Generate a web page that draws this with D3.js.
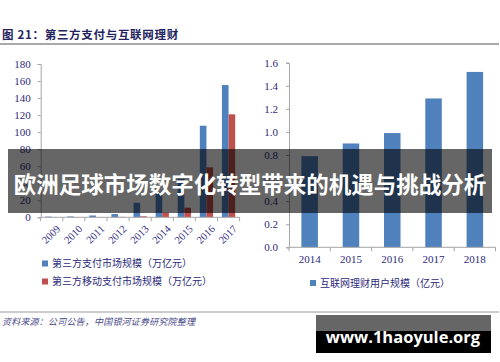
<!DOCTYPE html>
<html>
<head>
<meta charset="utf-8">
<script src="https://cdn.jsdelivr.net/npm/d3@7"></script>
<style>
  body { margin: 0; background: #fff; }
  svg { display: block; }
</style>
</head>
<body>
<div id="chart"></div>
<script>
'use strict';

// left chart: payment market size
var payYears = ['2009', '2010', '2011', '2012', '2013', '2014', '2015', '2016', '2017'];
var payTotal = [0.8, 1.0, 2.1, 3.8, 17.1, 30, 45, 107.5, 155.3];
var payMobile = [0.1, 0.2, 0.3, 0.5, 1.2, 5.4, 11.3, 58.7, 120.9];
var payTicks = [0, 20, 40, 60, 80, 100, 120, 140, 160, 180];

// right chart: online wealth management users
var wmYears = ['2014', '2015', '2016', '2017', '2018'];
var wmUsers = [0.79, 0.90, 0.99, 1.29, 1.52];
var wmTicks = [0, 0.2, 0.4, 0.6, 0.8, 1.0, 1.2, 1.4, 1.6];

var width = 500, height = 362;
var blue = '#4f81bd', red = '#c0504d';
var navy = '#2d2a7c', axisGray = '#a6a6a6';
var serif = '"Liberation Serif", "DejaVu Serif", serif';
var cjk = '"Noto Sans CJK SC", sans-serif';

var svg = d3.select('#chart').append('svg')
  .attr('width', width)
  .attr('height', height);

// header
svg.append('text')
  .attr('x', 2).attr('y', 39)
  .attr('font-family', cjk).attr('font-size', 11.5).attr('font-weight', 'bold')
  .attr('letter-spacing', 0.7)
  .attr('fill', '#23235e')
  .text('图 21：第三方支付与互联网理财');
svg.append('line')
  .attr('x1', 0).attr('x2', 499).attr('y1', 44).attr('y2', 44)
  .attr('stroke', '#8c8c8c').attr('stroke-width', 1.5);

// ---- left chart ----
var yL = d3.scaleLinear().domain([0, 180]).range([217.3, 64]);
var xL = d3.scaleBand().domain(payYears).range([40.7, 239.6]);
var bwL = xL.bandwidth();
var subL = d3.scaleBand().domain(['total', 'mobile']).range([bwL * 0.2, bwL * 0.8]);

var left = svg.append('g');

left.append('g')
  .attr('transform', 'translate(40.7,0)')
  .call(d3.axisLeft(yL).tickValues(payTicks).tickSize(3).tickPadding(7))
  .call(function(g) {
    g.select('.domain').attr('stroke', axisGray);
    g.selectAll('.tick line').attr('stroke', axisGray);
    g.selectAll('.tick text').attr('font-family', serif).attr('font-size', 11).attr('fill', navy);
  });

var payRows = payYears.map(function(y, i) {
  return { year: y, total: payTotal[i], mobile: payMobile[i] };
});

left.selectAll('rect.total')
  .data(payRows)
  .enter().append('rect')
  .attr('class', 'total')
  .attr('x', function(d) { return xL(d.year) + subL('total'); })
  .attr('y', function(d) { return yL(d.total); })
  .attr('width', subL.bandwidth())
  .attr('height', function(d) { return yL(0) - yL(d.total); })
  .attr('fill', blue);

left.selectAll('rect.mobile')
  .data(payRows)
  .enter().append('rect')
  .attr('class', 'mobile')
  .attr('x', function(d) { return xL(d.year) + subL('mobile'); })
  .attr('y', function(d) { return yL(d.mobile); })
  .attr('width', subL.bandwidth())
  .attr('height', function(d) { return yL(0) - yL(d.mobile); })
  .attr('fill', red);

// x axis with ticks at category boundaries
left.append('line')
  .attr('x1', xL.range()[0]).attr('x2', xL.range()[1])
  .attr('y1', yL(0)).attr('y2', yL(0))
  .attr('stroke', axisGray);
left.selectAll('line.bound')
  .data(payYears.concat(['end']))
  .enter().append('line')
  .attr('class', 'bound')
  .attr('x1', function(d, i) { return xL.range()[0] + i * bwL; })
  .attr('x2', function(d, i) { return xL.range()[0] + i * bwL; })
  .attr('y1', yL(0)).attr('y2', yL(0) + 4)
  .attr('stroke', axisGray);
left.selectAll('text.xlab')
  .data(payYears)
  .enter().append('text')
  .attr('class', 'xlab')
  .attr('transform', function(d) {
    return 'translate(' + (xL(d) + bwL / 2 + 4) + ',' + (yL(0) + 7) + ') rotate(-45)';
  })
  .attr('text-anchor', 'end')
  .attr('dy', '0.7em')
  .attr('font-family', serif).attr('font-size', 10.5).attr('fill', navy)
  .text(function(d) { return d; });

// left legend
var legL = [
  { color: blue, label: '第三方支付市场规模（万亿元）' },
  { color: red, label: '第三方移动支付市场规模（万亿元）' }
];
var legG = left.selectAll('g.leg')
  .data(legL)
  .enter().append('g')
  .attr('class', 'leg')
  .attr('transform', function(d, i) { return 'translate(42,' + (263.5 + i * 18) + ')'; });
legG.append('rect')
  .attr('x', 0).attr('y', -3).attr('width', 6).attr('height', 6)
  .attr('fill', function(d) { return d.color; });
legG.append('text')
  .attr('x', 10).attr('dy', '0.35em')
  .attr('font-family', cjk).attr('font-size', 10).attr('fill', navy)
  .text(function(d) { return d.label; });

// ---- right chart ----
var yR = d3.scaleLinear().domain([0, 1.6]).range([247.3, 62.7]);
var xR = d3.scaleBand().domain(wmYears).range([289, 495.5]).paddingInner(0.6).paddingOuter(0.3);
var bandR = (495.5 - 289) / wmYears.length;

var right = svg.append('g');

right.append('g')
  .attr('transform', 'translate(289,0)')
  .call(d3.axisLeft(yR).tickValues(wmTicks).tickSize(3).tickPadding(8).tickFormat(d3.format('.1f')))
  .call(function(g) {
    g.select('.domain').attr('stroke', axisGray);
    g.selectAll('.tick line').attr('stroke', axisGray);
    g.selectAll('.tick text').attr('font-family', serif).attr('font-size', 11).attr('fill', navy);
  });

right.selectAll('rect.users')
  .data(wmYears)
  .enter().append('rect')
  .attr('class', 'users')
  .attr('x', function(d) { return xR(d); })
  .attr('y', function(d, i) { return yR(wmUsers[i]); })
  .attr('width', xR.bandwidth())
  .attr('height', function(d, i) { return yR(0) - yR(wmUsers[i]); })
  .attr('fill', blue);

right.append('line')
  .attr('x1', 289).attr('x2', 495.5)
  .attr('y1', yR(0)).attr('y2', yR(0))
  .attr('stroke', axisGray);
right.selectAll('line.bound')
  .data(wmYears.concat(['end']))
  .enter().append('line')
  .attr('class', 'bound')
  .attr('x1', function(d, i) { return 289 + i * bandR; })
  .attr('x2', function(d, i) { return 289 + i * bandR; })
  .attr('y1', yR(0)).attr('y2', yR(0) + 4)
  .attr('stroke', axisGray);
right.selectAll('text.xlab')
  .data(wmYears)
  .enter().append('text')
  .attr('class', 'xlab')
  .attr('x', function(d) { return xR(d) + xR.bandwidth() / 2; })
  .attr('y', 263)
  .attr('text-anchor', 'middle')
  .attr('font-family', serif).attr('font-size', 11).attr('fill', navy)
  .text(function(d) { return d; });

var legR = right.append('g').attr('transform', 'translate(310,283)');
legR.append('rect')
  .attr('x', 0).attr('y', -3).attr('width', 6).attr('height', 6)
  .attr('fill', blue);
legR.append('text')
  .attr('x', 10).attr('dy', '0.35em')
  .attr('font-family', cjk).attr('font-size', 10).attr('fill', navy)
  .text('互联网理财用户规模（亿元）');

// footer
svg.append('line')
  .attr('x1', 0).attr('x2', 499).attr('y1', 312).attr('y2', 312)
  .attr('stroke', '#9a9a9a').attr('stroke-width', 1.2);
svg.append('text')
  .attr('x', 2).attr('y', 325)
  .attr('font-family', cjk).attr('font-size', 9).attr('font-style', 'italic')
  .attr('letter-spacing', 0.2)
  .attr('fill', '#4a4a8a')
  .text('资料来源：公司公告，中国银河证券研究院整理');

// overlay banner
svg.append('rect')
  .attr('x', 8).attr('y', 149).attr('width', 484).attr('height', 64)
  .attr('fill', 'rgba(0,0,0,0.6)');
svg.append('text')
  .attr('x', 250).attr('y', 185)
  .attr('text-anchor', 'middle').attr('dy', '0.35em')
  .attr('font-family', cjk).attr('font-size', 22.5).attr('font-weight', 'bold')
  .attr('fill', '#fff')
  .text('欧洲足球市场数字化转型带来的机遇与挑战分析');

// watermark
svg.append('rect')
  .attr('x', 316).attr('y', 315).attr('width', 175).attr('height', 38)
  .attr('fill', '#000');
svg.append('rect')
  .attr('x', 316).attr('y', 315).attr('width', 175).attr('height', 16)
  .attr('fill', '#666');
svg.append('text')
  .attr('x', 403).attr('y', 343)
  .attr('text-anchor', 'middle')
  .attr('font-family', '"Open Sans", "DejaVu Sans", sans-serif').attr('font-size', 16.5).attr('font-weight', 'bold')
  .attr('fill', '#fff')
  .text('www.1haoyule.org');
</script>
</body>
</html>
